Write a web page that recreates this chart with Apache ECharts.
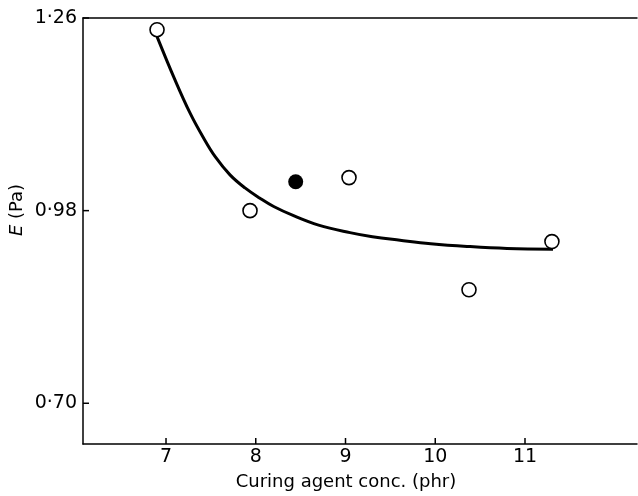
<!DOCTYPE html>
<html>
<head>
<meta charset="utf-8">
<script src="https://cdn.jsdelivr.net/npm/echarts@6/dist/echarts.min.js"></script>
<style>html,body{margin:0;padding:0;background:#fff}#c{width:638px;height:496px}</style>
</head>
<body>
<div id="c"></div>
<script>
// Open-circle measurements [conc (phr), E (Pa)]
const openPoints = [[6.90, 1.243], [7.936, 0.980], [9.039, 1.028], [10.376, 0.865], [11.30, 0.935]];
// Filled-circle measurement
const filledPoints = [[8.445, 1.022]];
// Fitted curve
const curvePoints = [[6.90, 1.233], [7.10, 1.170], [7.267, 1.122], [7.412, 1.087], [7.55, 1.058], [7.713, 1.032], [7.88, 1.013], [8.047, 0.998], [8.20, 0.986], [8.415, 0.973], [8.70, 0.959], [9.050, 0.948], [9.30, 0.942], [9.607, 0.937], [9.95, 0.932], [10.354, 0.928], [10.80, 0.925], [11.312, 0.924]];
const xTicks = [7, 8, 9, 10, 11];
const yTicks = [0.70, 0.98, 1.26];
const xRange = [6.075, 12.248];
const yRange = [0.6408, 1.26];

const font = "'DejaVu Sans', sans-serif";
const TICK = 6;
function tickRenderer(dir) {
  return function (params, api) {
    const p = api.coord([api.value(0), api.value(1)]);
    const end = dir === 'x' ? [p[0], p[1] - TICK] : [p[0] + TICK, p[1]];
    return { type: 'line', shape: { x1: p[0], y1: p[1], x2: end[0], y2: end[1] },
      style: { stroke: '#000', lineWidth: 1.5 } };
  };
}
const chart = echarts.init(document.getElementById('c'));
chart.setOption({
  animation: false,
  grid: { left: 83, top: 18, width: 554, bottom: 49 },
  xAxis: [{
    type: 'value', min: xRange[0], max: xRange[1],
    axisLine: { show: true, lineStyle: { color: '#000', width: 1.5 } },
    axisTick: { show: false },
    axisLabel: { customValues: xTicks, color: '#000', fontSize: 19, fontFamily: font, margin: 4 },
    splitLine: { show: false },
    name: 'Curing agent conc. (phr)', nameLocation: 'middle', nameGap: 29,
    nameTextStyle: { color: '#000', fontSize: 18, fontFamily: font, padding: [0, 28, 0, 0] }
  }, {
    type: 'value', position: 'top', min: xRange[0], max: xRange[1],
    axisLine: { show: true, lineStyle: { color: '#000', width: 1.5 } },
    axisTick: { show: false }, axisLabel: { show: false }, splitLine: { show: false }
  }],
  yAxis: {
    type: 'value', min: yRange[0], max: yRange[1],
    axisLine: { show: true, lineStyle: { color: '#000', width: 1.5 } },
    axisTick: { show: false },
    axisLabel: { customValues: yTicks, color: '#000', fontSize: 19, fontFamily: font, margin: 6,
      formatter: v => v.toFixed(2).replace('.', '·') },
    splitLine: { show: false }
  },
  graphic: [{
    type: 'text', x: 17, y: 210, rotation: Math.PI / 2,
    style: { text: '{i|E} (Pa)', rich: { i: { fontStyle: 'italic', fontSize: 18, fontFamily: font, fill: '#000' } },
      fontSize: 18, fontFamily: font, fill: '#000', align: 'center', verticalAlign: 'middle' }
  }],
  series: [{
    type: 'custom', renderItem: tickRenderer('x'), clip: false, silent: true,
    data: xTicks.map(v => [v, yRange[0]]), z: 1
  }, {
    type: 'custom', renderItem: tickRenderer('y'), clip: false, silent: true,
    data: yTicks.map(v => [xRange[0], v]), z: 1
  }, {
    type: 'line', data: curvePoints, smooth: 0.4, showSymbol: false,
    lineStyle: { color: '#000', width: 3 }, z: 2
  }, {
    type: 'scatter', data: openPoints, symbol: 'circle', symbolSize: 14,
    itemStyle: { color: '#fff', borderColor: '#000', borderWidth: 1.6, opacity: 1 }, z: 3
  }, {
    type: 'scatter', data: filledPoints, symbol: 'circle', symbolSize: 15,
    itemStyle: { color: '#000', opacity: 1 }, z: 3
  }]
});
</script>
</body>
</html>
